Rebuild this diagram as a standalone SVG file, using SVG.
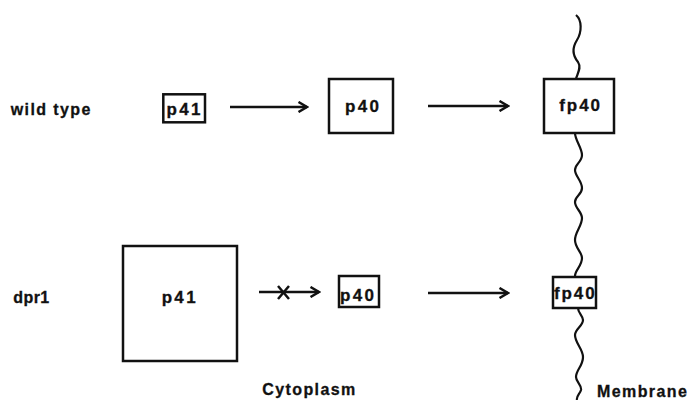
<svg xmlns="http://www.w3.org/2000/svg" width="690" height="400" viewBox="0 0 690 400">
<defs>
<style>
.lbl{font-family:"Liberation Sans",Arial,Helvetica,sans-serif;font-weight:bold;font-size:16px;fill:#111;stroke:#111;stroke-width:0.3;letter-spacing:1.4px}
.box{fill:#fff;stroke:#111;stroke-width:2.5}
.bt{font-family:"Liberation Sans",Arial,Helvetica,sans-serif;font-weight:bold;font-size:17px;fill:#111;stroke:#111;stroke-width:0.3;letter-spacing:2.3px}
.ln{fill:none;stroke:#111;stroke-width:2.5}
.mem{fill:none;stroke:#111;stroke-width:2.2}
</style>
<marker id="ah" viewBox="0 0 12 12" refX="10" refY="6" markerWidth="12" markerHeight="12" markerUnits="userSpaceOnUse" orient="auto">
<path d="M1.5,1 L10,6 L1.5,11" fill="none" stroke="#111" stroke-width="2.5"/>
</marker>
</defs>
<rect width="690" height="400" fill="#fff"/>
<g id="labels">
<text class="lbl" x="10.7" y="115">wild type</text>
<text class="lbl" x="13.3" y="303" style="letter-spacing:0.4px">dpr1</text>
<text class="lbl" x="262.3" y="394.5">Cytoplasm</text>
<text class="lbl" x="597" y="397">Membrane</text>
</g>
<g id="membrane">
<path class="mem" d="M576,15 C582,20 582,32 577,40 C572,48 573,56 578,62 C582,68 577,74 576,79"/>
<path class="mem" d="M575,133 C575,140 582,148 582,155 C582,162 575,164 575,170 C575,176 582,181 582,188 C582,195 575,196 575,202 C575,208 582,212 582,218 C582,226 575,232 575,240 C575,248 582,252 582,258 C582,266 575,270 575,276"/>
<path class="mem" d="M578,308 C578,313 583,316 583,320 C583,326 575,329 575,335 C575,343 583,349 583,357 C583,366 576,370 576,377 C576,382 582,385 581,390 C580,394 576,396 577,400"/>
</g>
<g id="connectors">
<line class="ln" x1="230" y1="107" x2="307" y2="107" marker-end="url(#ah)"/>
<line class="ln" x1="428" y1="106" x2="508" y2="106" marker-end="url(#ah)"/>
<line class="ln" x1="259" y1="292" x2="319" y2="292" marker-end="url(#ah)"/>
<path class="ln" d="M278,286 L289,299 M289,286 L278,299"/>
<line class="ln" x1="428" y1="293" x2="508" y2="293" marker-end="url(#ah)"/>
</g>
<g id="wt-p41">
<rect class="box" x="163.3" y="94.3" width="41.7" height="28"/>
<text class="bt" x="166.5" y="114.5">p41</text>
</g>
<g id="wt-p40">
<rect class="box" x="329" y="79" width="64" height="54"/>
<text class="bt" x="345" y="112">p40</text>
</g>
<g id="wt-fp40">
<rect class="box" x="544" y="79" width="70" height="54"/>
<text class="bt" x="559.3" y="111" style="letter-spacing:1.9px">fp40</text>
</g>
<g id="dpr1-p41">
<rect class="box" x="123" y="246" width="114" height="115"/>
<text class="bt" x="161.7" y="303">p41</text>
</g>
<g id="dpr1-p40">
<rect class="box" x="339" y="276" width="40" height="31"/>
<text class="bt" x="340" y="301">p40</text>
</g>
<g id="dpr1-fp40">
<rect class="box" x="553" y="277" width="43" height="31"/>
<text class="bt" x="554" y="298.5" style="letter-spacing:1.9px">fp40</text>
</g>
</svg>
